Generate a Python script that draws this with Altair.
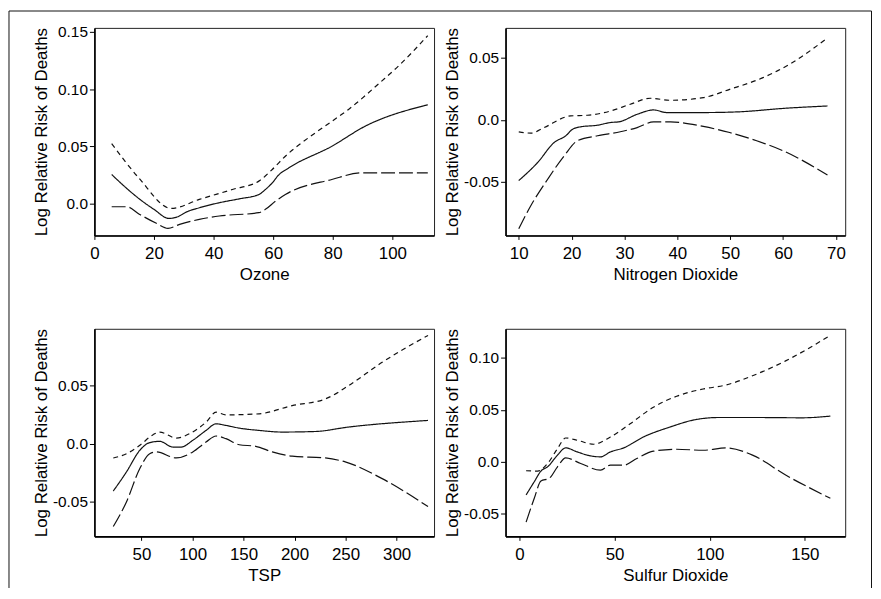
import altair as alt
import pandas as pd

SERIES = ["Estimate", "Upper", "Lower"]
DASH = [[1, 0], [5, 4], [14, 4]]
YTITLE = "Log Relative Risk of Deaths"

# ---------------- Ozone ----------------
oz_est_x = [5.8, 10, 15, 20, 25, 28, 30.8, 35.2, 41.9, 48.6, 55.2, 57.4, 59.7, 61.9, 65.2, 79.7, 90.8, 111.9]
oz_est_y = [0.0253, 0.0151, 0.0041, -0.0052, -0.0131, -0.0116, -0.0076, -0.0038, 0.0006, 0.004, 0.0078, 0.0122, 0.018, 0.025, 0.031, 0.05, 0.0674, 0.0863]
oz_up_x = [5.8, 15, 25.8, 35.2, 46.3, 55.2, 59.7, 64.1, 74.1, 79.7, 85.2, 96.3, 102.2, 111.9]
oz_up_y = [0.0523, 0.022, -0.0044, 0.0035, 0.0122, 0.0195, 0.0297, 0.0413, 0.0616, 0.0718, 0.082, 0.1067, 0.1205, 0.1468]
oz_lo_x = [5.8, 10.8, 15.2, 20.8, 24.7, 28.6, 35.2, 41.9, 55.2, 57.4, 60.8, 64.1, 79.7, 89.7, 111.9]
oz_lo_y = [-0.0029, -0.0029, -0.0096, -0.0174, -0.0218, -0.0183, -0.014, -0.011, -0.0081, -0.0052, 0.002, 0.0078, 0.0209, 0.0267, 0.0267]
oz_xticks = [0, 20, 40, 60, 80, 100]
oz_yticks = [0.0, 0.05, 0.10, 0.15]

# ---------------- Nitrogen Dioxide ----------------
no_est_x = [10, 13.6, 16.7, 18.9, 20.2, 21.7, 24.9, 27.4, 28.9, 32.4, 35.5, 38, 44.9, 51.2, 60.6, 68.4]
no_est_y = [-0.0489, -0.0342, -0.0182, -0.0128, -0.0075, -0.0056, -0.0043, -0.0021, -0.0016, 0.0045, 0.008, 0.0059, 0.0059, 0.0064, 0.0094, 0.0112]
no_up_x = [10, 12.3, 14.8, 19.8, 23, 27.4, 31.1, 34.9, 38.7, 44.9, 49.9, 56.2, 61.2, 68.4]
no_up_y = [-0.0096, -0.0107, -0.0062, 0.0032, 0.0037, 0.0072, 0.0126, 0.0174, 0.0158, 0.0179, 0.0246, 0.034, 0.0447, 0.066]
no_lo_x = [10, 12.3, 15.5, 18.6, 21.1, 24.9, 29.2, 32.4, 35.5, 38.7, 44.9, 49.9, 55, 60, 68.4]
no_lo_y = [-0.0877, -0.069, -0.0476, -0.0289, -0.0168, -0.0128, -0.0096, -0.0062, -0.0016, -0.0016, -0.0053, -0.0102, -0.0168, -0.0249, -0.0444]
no_xticks = [10, 20, 30, 40, 50, 60, 70]
no_yticks = [-0.05, 0.0, 0.05]

# ---------------- TSP ----------------
ts_est_x = [22.4, 35.4, 48.4, 58.1, 67.9, 80.8, 89, 100.3, 113.3, 123.1, 132.8, 145.8, 165.3, 188, 220.5, 252.9, 330.8]
ts_est_y = [-0.0408, -0.0242, -0.0057, 0.0009, 0.002, -0.0029, -0.0029, 0.0029, 0.0114, 0.0171, 0.0157, 0.0134, 0.0114, 0.01, 0.0105, 0.0143, 0.02]
ts_up_x = [22.4, 35.4, 48.4, 61.4, 67.9, 84.1, 97.1, 113.3, 123.1, 132.8, 165.3, 197.7, 230.2, 252.9, 285.4, 330.8]
ts_up_y = [-0.0123, -0.0086, -0.0014, 0.0077, 0.01, 0.0048, 0.0086, 0.0185, 0.0271, 0.0248, 0.0257, 0.0328, 0.0385, 0.0499, 0.0698, 0.0932]
ts_lo_x = [22.4, 35.4, 48.4, 58.1, 64.6, 84.1, 100.3, 113.3, 123.1, 132.8, 145.8, 162, 178.2, 197.7, 230.2, 249.7, 285.4, 330.8]
ts_lo_y = [-0.0713, -0.0499, -0.0214, -0.0086, -0.0071, -0.0123, -0.0071, 0.0014, 0.0066, 0.0043, -0.0009, -0.0023, -0.0071, -0.0108, -0.0123, -0.0157, -0.0299, -0.0542]
ts_xticks = [50, 100, 150, 200, 250, 300]
ts_yticks = [-0.05, 0.0, 0.05]

# ---------------- Sulfur Dioxide ----------------
so_est_x = [3.5, 7.8, 11.3, 14.8, 20, 24.3, 30.4, 37.4, 42.6, 47.8, 54.8, 65.2, 79.1, 93, 105.2, 122.5, 148.6, 163.4]
so_est_y = [-0.0318, -0.0191, -0.0089, -0.0048, 0.0064, 0.0134, 0.0095, 0.0057, 0.0048, 0.0095, 0.0134, 0.0239, 0.0334, 0.0407, 0.0426, 0.0426, 0.0423, 0.0439]
so_up_x = [3.5, 9.6, 14.8, 20, 24.3, 30.4, 39.1, 47.8, 58.2, 70.4, 82.6, 96.5, 108.6, 122.5, 139.9, 163.4]
so_up_y = [-0.0086, -0.0089, -0.0016, 0.0127, 0.0229, 0.0207, 0.0169, 0.0239, 0.0366, 0.0525, 0.063, 0.07, 0.0738, 0.0827, 0.097, 0.1215]
so_lo_x = [3.5, 7.8, 11.3, 15.6, 20, 24.3, 32.2, 42.6, 47.8, 54.8, 61.7, 70.4, 82.6, 96.5, 108.6, 122.5, 139.9, 163.4]
so_lo_y = [-0.0579, -0.035, -0.0184, -0.0159, -0.0048, 0.0038, -0.0016, -0.008, -0.0032, -0.0032, 0.0032, 0.0102, 0.0121, 0.0111, 0.0134, 0.0064, -0.0127, -0.035]
so_xticks = [0, 50, 100, 150]
so_yticks = [-0.05, 0.0, 0.05, 0.10]

YLAB = "datum.value === 0 ? '0.0' : replace(format(datum.value, '.2f'), '\u2212', '-')"

PW, PH = 342, 209


def make_df(est, up, lo):
    rows = []
    for name, (xs, ys) in zip(SERIES, [est, up, lo]):
        for i, (x, y) in enumerate(zip(xs, ys)):
            rows.append({"x": x, "y": y, "s": name, "o": i})
    return pd.DataFrame(rows)


def panel(df, xtitle, xdom, ydom, xticks, yticks):
    return alt.Chart(df).mark_line(
        color="#111", strokeWidth=1.2, interpolate="monotone"
    ).encode(
        x=alt.X("x:Q", title=xtitle,
                scale=alt.Scale(domain=xdom, nice=False, zero=False),
                axis=alt.Axis(values=xticks, format="d", titleX=PW / 2, titleY=44,
                              titleBaseline="alphabetic")),
        y=alt.Y("y:Q", title=YTITLE,
                scale=alt.Scale(domain=ydom, nice=False, zero=False),
                axis=alt.Axis(values=yticks, labelExpr=YLAB, titleX=-48, titleY=PH / 2,
                              titleBaseline="alphabetic")),
        strokeDash=alt.StrokeDash("s:N", scale=alt.Scale(domain=SERIES, range=DASH), legend=None),
        order="o:Q",
    ).properties(width=PW, height=PH)


p1 = panel(make_df((oz_est_x, oz_est_y), (oz_up_x, oz_up_y), (oz_lo_x, oz_lo_y)),
           "Ozone", [0, 114], [-0.028, 0.1535], oz_xticks, oz_yticks)
p2 = panel(make_df((no_est_x, no_est_y), (no_up_x, no_up_y), (no_lo_x, no_lo_y)),
           "Nitrogen Dioxide", [7.5, 71.75], [-0.0931, 0.0741], no_xticks, no_yticks)
p3 = panel(make_df((ts_est_x, ts_est_y), (ts_up_x, ts_up_y), (ts_lo_x, ts_lo_y)),
           "TSP", [3.9, 336.7], [-0.0798, 0.0989], ts_xticks, ts_yticks)
p4 = panel(make_df((so_est_x, so_est_y), (so_up_x, so_up_y), (so_lo_x, so_lo_y)),
           "Sulfur Dioxide", [-7.3, 171.2], [-0.0716, 0.1278], so_xticks, so_yticks)

# decorative outer frame (left, top, right), drawn from the top-left panel
FT = -17
FB = 564
bdf = pd.DataFrame({"k": [0]})
fb = alt.Chart(bdf)
frame_left = fb.mark_rule(color="#111", strokeWidth=1).encode(
    x=alt.value(-86), y=alt.value(FT), y2=alt.value(FB))
frame_top = fb.mark_rule(color="#111", strokeWidth=1).encode(
    x=alt.value(-86), x2=alt.value(782.5), y=alt.value(FT))
frame_right = fb.mark_rule(color="#111", strokeWidth=1).encode(
    x=alt.value(782.5), y=alt.value(FT), y2=alt.value(FB))

p1l = alt.layer(p1, frame_left, frame_top, frame_right)

chart = alt.concat(
    p1l, p2, p3, p4, columns=2, spacing={"row": 94, "column": 72}, bounds="flush"
).properties(
    padding=0, background="white"
).configure_view(
    stroke="#222", strokeWidth=1
).configure_axis(
    grid=False, domainColor="#000", domainWidth=1.6, tickColor="#000", tickWidth=1,
    tickSize=5, labelFont="Liberation Sans", labelFontSize=15.5, labelColor="#000",
    titleFont="Liberation Sans", titleFontSize=17, titleFontWeight="normal",
    titleColor="#000", labelPadding=2, labelFlush=False, labelOverlap=False
).configure_axisX(
    tickSize=4, labelPadding=6, labelFontSize=17
)

chart.save("out.html", embed_options={"renderer": "svg", "actions": False})
